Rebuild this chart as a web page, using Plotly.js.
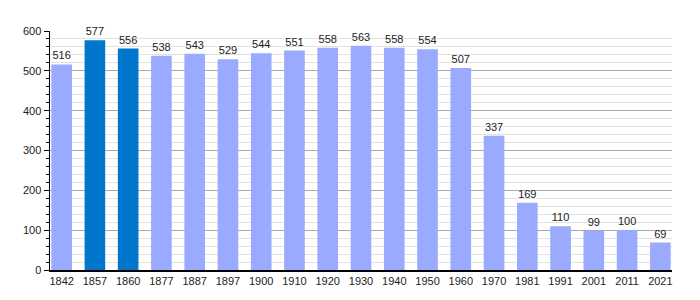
<!DOCTYPE html>
<html><head><meta charset="utf-8">
<script src="https://cdn.plot.ly/plotly-3.0.1.min.js"></script>
<style>html,body{margin:0;padding:0;background:#fff}#c{width:700px;height:300px}</style>
</head><body><div id="c"></div>
<script>
const years = ["1842","1857","1860","1877","1887","1897","1900","1910","1920","1930","1940","1950","1960","1970","1981","1991","2001","2011","2021"];
const population = [516,577,556,538,543,529,544,551,558,563,558,554,507,337,169,110,99,100,69];
const highlighted = ["1857","1860"];
const colors = years.map(y => highlighted.includes(y) ? "#0077cc" : "#99aaff");
Plotly.newPlot("c", [{
  type: "bar", x: years, y: population,
  marker: {color: colors},
  width: 0.62,
  text: population.map(String), textposition: "outside",
  textfont: {family: "Liberation Sans, Arial", size: 11, color: "#222"},
  cliponaxis: false, hoverinfo: "none"
}], {
  width: 700, height: 300,
  margin: {l: 50, r: 28, t: 31, b: 30},
  paper_bgcolor: "#fff", plot_bgcolor: "#fff",
  showlegend: false,
  font: {family: "Liberation Sans, Arial", size: 11, color: "#222"},
  xaxis: {type: "category", range: [-0.35, 18.35], showgrid: false, showline: true, linecolor: "#000", linewidth: 1.5, ticks: "", tickfont: {size: 11}, fixedrange: true},
  yaxis: {range: [0, 600], dtick: 100, showline: true, linecolor: "#000", linewidth: 1.5, ticks: "outside", ticklen: 5, tickcolor: "#000",
    gridcolor: "#aaaaaa", gridwidth: 1, zeroline: false, tickfont: {size: 11},
    minor: {dtick: 20, showgrid: true, gridcolor: "#e2e2e2", gridwidth: 1, ticks: "outside", ticklen: 3, tickcolor: "#000"},
    fixedrange: true}
}, {staticPlot: true, displayModeBar: false});
</script></body></html>
